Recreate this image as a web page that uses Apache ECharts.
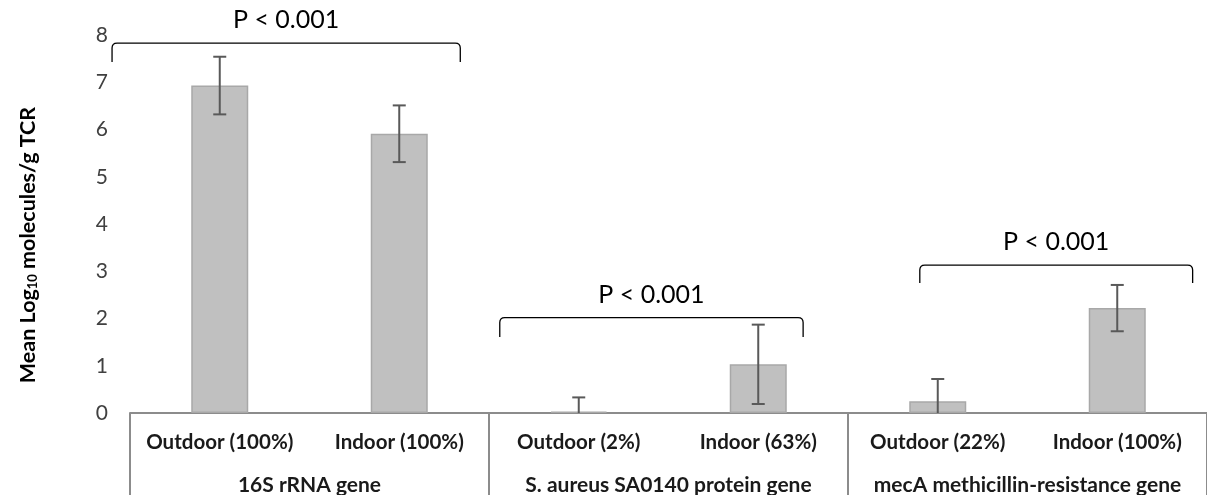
<!DOCTYPE html>
<html>
<head>
<meta charset="utf-8">
<script src="https://cdn.jsdelivr.net/npm/echarts@6/dist/echarts.min.js"></script>
<style>
html,body{margin:0;padding:0;background:#fff;}
#chart{width:1207px;height:495px;}
</style>
</head>
<body>
<div id="chart"></div>
<script>
// ---- data ----
const categories = ['Outdoor (100%)', 'Indoor (100%)', 'Outdoor (2%)', 'Indoor (63%)', 'Outdoor (22%)', 'Indoor (100%)'];
const groups = ['16S rRNA gene', 'S. aureus SA0140 protein gene', 'mecA methicillin-resistance gene'];
const means = [6.93, 5.91, 0.03, 1.03, 0.25, 2.22];
const errors = [0.61, 0.60, 0.30, 0.84, 0.47, 0.49];
const yTicks = [0, 1, 2, 3, 4, 5, 6, 7, 8];
const pLabels = ['P < 0.001', 'P < 0.001', 'P < 0.001'];
// bracket spans in category units and levels in axis units
const bracketFrom = [-0.6, 1.56, 3.9];
const bracketTo = [1.34, 3.25, 5.42];
const bracketTop = [7.83, 2.02, 3.13];
const bracketEnd = [7.43, 1.61, 2.75];

const FONT = 'Lato';
const chart = echarts.init(document.getElementById('chart'), null, {renderer: 'canvas'});

const errData = means.map((m, i) => [i, m, errors[i]]);
const bracketData = pLabels.map((p, i) => [bracketFrom[i], bracketTo[i], bracketTop[i], bracketEnd[i], i]);

function catX(api, c, y) {
  const p0 = api.coord([0, y]);
  const p1 = api.coord([1, y]);
  return p0[0] + (p1[0] - p0[0]) * c;
}

const option = {
  animation: false,
  grid: {left: 130, right: 0, top: 35, bottom: 82, outerBoundsMode: 'none', containLabel: false},
  xAxis: [
    {
      type: 'category', data: categories, position: 'bottom',
      axisLine: {show: true, lineStyle: {color: '#8c8c8c', width: 2}},
      axisTick: {show: false},
      axisLabel: {fontFamily: FONT, fontWeight: 'bold', fontSize: 20.5, color: '#1a1a1a', margin: 19, interval: 0}
    },
    {
      type: 'category', data: groups, position: 'bottom',
      axisLine: {show: false},
      axisTick: {show: true, interval: 0, length: 84, inside: false, lineStyle: {color: '#8c8c8c', width: 2}},
      axisLabel: {fontFamily: FONT, fontWeight: 'bold', fontSize: 21, color: '#1a1a1a', margin: 62, interval: 0}
    }
  ],
  yAxis: {
    type: 'value', min: 0, max: 8, interval: 1,
    axisLine: {show: false}, axisTick: {show: false}, splitLine: {show: false},
    axisLabel: {fontFamily: FONT, fontSize: 21, color: '#404040', margin: 22,
      formatter: v => yTicks.includes(v) ? String(v) : ''}
  },
  series: [
    {
      type: 'bar', data: means, xAxisIndex: 0, barWidth: 57,
      itemStyle: {color: '#c0c0c0', borderColor: '#a8a8a8', borderWidth: 1.5}
    },
    {
      type: 'custom', xAxisIndex: 0, clip: true, z: 5,
      data: errData,
      renderItem: function (params, api) {
        const i = api.value(0), m = api.value(1), e = api.value(2);
        const top = api.coord([i, m + e]);
        const bot = api.coord([i, m - e]);
        const x = top[0];
        const cap = 6.5;
        const children = [
          {type: 'line', shape: {x1: x, y1: top[1], x2: x, y2: bot[1]}, style: {stroke: '#595959', lineWidth: 2}},
          {type: 'line', shape: {x1: x - cap, y1: top[1], x2: x + cap, y2: top[1]}, style: {stroke: '#595959', lineWidth: 2}},
          {type: 'line', shape: {x1: x - cap, y1: bot[1], x2: x + cap, y2: bot[1]}, style: {stroke: '#595959', lineWidth: 2}}
        ];
        return {type: 'group', children: children};
      }
    },
    {
      type: 'custom', xAxisIndex: 0, clip: false, z: 6,
      data: bracketData,
      renderItem: function (params, api) {
        const a = api.value(0), b = api.value(1), yt = api.value(2), ye = api.value(3), idx = api.value(4);
        const x1 = catX(api, a, yt), x2 = catX(api, b, yt);
        const y1 = api.coord([0, yt])[1], y2 = api.coord([0, ye])[1];
        const r = 5;
        const path = 'M' + x1 + ',' + y2 + ' L' + x1 + ',' + (y1 + r) + ' Q' + x1 + ',' + y1 + ' ' + (x1 + r) + ',' + y1 +
          ' L' + (x2 - r) + ',' + y1 + ' Q' + x2 + ',' + y1 + ' ' + x2 + ',' + (y1 + r) + ' L' + x2 + ',' + y2;
        return {
          type: 'group',
          children: [
            {type: 'path', shape: {pathData: path}, style: {fill: null, stroke: '#000', lineWidth: 1.3}},
            {type: 'text', x: (x1 + x2) / 2, y: y1 - 23,
              style: {text: pLabels[idx], fontFamily: FONT, fontSize: 25, fill: '#000', align: 'center', verticalAlign: 'middle'}}
          ]
        };
      }
    }
  ],
  graphic: [
    {
      type: 'text', x: 28, y: 245, rotation: Math.PI / 2,
      style: {
        text: '{b|Mean Log}{s|10}{b| molecules/g TCR}',
        align: 'center', verticalAlign: 'middle',
        rich: {
          b: {fontFamily: FONT, fontWeight: 'bold', fontSize: 21.5, fill: '#000', verticalAlign: 'middle'},
          s: {fontFamily: FONT, fontWeight: 'bold', fontSize: 13, fill: '#000', verticalAlign: 'bottom', padding: [9, 0, 0, 0]}
        }
      }
    }
  ]
};
chart.setOption(option);
</script>
</body>
</html>
